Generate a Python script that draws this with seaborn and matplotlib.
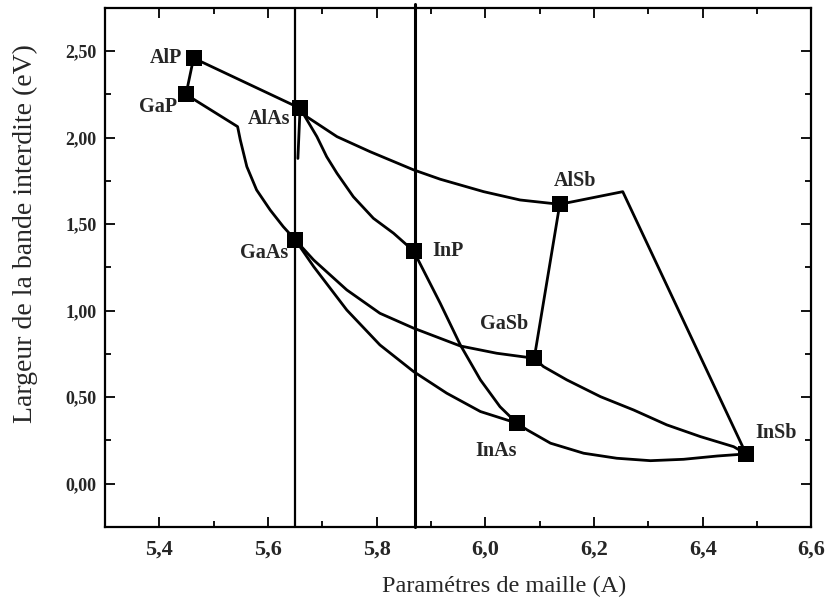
import matplotlib
matplotlib.use("Agg")

import pandas as pd
import seaborn as sns
from matplotlib import pyplot as plt

# binary compounds: lattice parameter (A) and band gap (eV)
compounds = ["AlP", "GaP", "AlAs", "GaAs", "InP", "AlSb", "GaSb", "InAs", "InSb"]
lattice = [5.463, 5.449, 5.659, 5.650, 5.868, 6.137, 6.090, 6.058, 6.480]
band_gap = [2.46, 2.25, 2.17, 1.41, 1.345, 1.615, 0.725, 0.35, 0.172]

# ternary branches
alp_alas_x = [5.463, 5.659]
alp_alas_y = [2.46, 2.17]
alp_gap_x = [5.463, 5.449]
alp_gap_y = [2.46, 2.25]
gap_gaas_x = [5.449, 5.544, 5.549, 5.561, 5.579, 5.604, 5.628, 5.650]
gap_gaas_y = [2.25, 2.064, 1.987, 1.833, 1.698, 1.582, 1.486, 1.41]
alas_gaas_x = [5.659, 5.655]
alas_gaas_y = [2.17, 1.88]
alas_alsb_x = [5.659, 5.671, 5.727, 5.788, 5.868, 5.917, 5.997, 6.064, 6.137]
alas_alsb_y = [2.17, 2.122, 2.006, 1.919, 1.814, 1.760, 1.688, 1.640, 1.615]
alas_inas_x = [5.659, 5.690, 5.708, 5.727, 5.757, 5.794, 5.831, 5.868, 5.917, 5.954, 5.991, 6.027, 6.058]
alas_inas_y = [2.17, 2.006, 1.890, 1.794, 1.659, 1.534, 1.448, 1.345, 1.043, 0.802, 0.600, 0.445, 0.35]
gaas_gasb_x = [5.650, 5.684, 5.745, 5.806, 5.868, 5.954, 6.021, 6.090]
gaas_gasb_y = [1.41, 1.293, 1.120, 0.985, 0.899, 0.796, 0.754, 0.725]
gaas_inas_x = [5.650, 5.684, 5.745, 5.806, 5.868, 5.929, 5.991, 6.058]
gaas_inas_y = [1.41, 1.255, 1.004, 0.802, 0.648, 0.523, 0.417, 0.35]
alsb_gasb_x = [6.137, 6.090]
alsb_gasb_y = [1.615, 0.725]
alsb_insb_x = [6.137, 6.253, 6.480]
alsb_insb_y = [1.615, 1.688, 0.172]
gasb_insb_x = [6.090, 6.107, 6.150, 6.212, 6.273, 6.334, 6.396, 6.457, 6.480]
gasb_insb_y = [0.725, 0.677, 0.600, 0.503, 0.426, 0.340, 0.272, 0.214, 0.172]
inas_insb_x = [6.058, 6.077, 6.120, 6.181, 6.242, 6.304, 6.365, 6.427, 6.480]
inas_insb_y = [0.35, 0.311, 0.234, 0.176, 0.147, 0.133, 0.141, 0.160, 0.172]

substrates = [5.65, 5.87]

x_ticks = [5.4, 5.6, 5.8, 6.0, 6.2, 6.4, 6.6]
x_tick_labels = ["5,4", "5,6", "5,8", "6,0", "6,2", "6,4", "6,6"]
y_ticks = [0.0, 0.5, 1.0, 1.5, 2.0, 2.5]
y_tick_labels = ["0,00", "0,50", "1,00", "1,50", "2,00", "2,50"]

# label placement (offset in points, alignment)
label_style = {
    "AlP": ((-8, 0), "right"),
    "GaP": ((-6.5, -9), "right"),
    "AlAs": ((-7, -8), "right"),
    "GaAs": ((-5, -9.5), "right"),
    "InP": ((13.5, 0), "left"),
    "AlSb": ((11, 17), "center"),
    "GaSb": ((-4, 24.5), "right"),
    "InAs": ((0, -20), "right"),
    "InSb": ((6.5, 15), "left"),
}

branches = {
    "AlP-AlAs": (alp_alas_x, alp_alas_y),
    "AlP-GaP": (alp_gap_x, alp_gap_y),
    "GaP-GaAs": (gap_gaas_x, gap_gaas_y),
    "AlAs-GaAs": (alas_gaas_x, alas_gaas_y),
    "AlAs-AlSb": (alas_alsb_x, alas_alsb_y),
    "AlAs-InAs": (alas_inas_x, alas_inas_y),
    "GaAs-GaSb": (gaas_gasb_x, gaas_gasb_y),
    "GaAs-InAs": (gaas_inas_x, gaas_inas_y),
    "AlSb-GaSb": (alsb_gasb_x, alsb_gasb_y),
    "AlSb-InSb": (alsb_insb_x, alsb_insb_y),
    "GaSb-InSb": (gasb_insb_x, gasb_insb_y),
    "InAs-InSb": (inas_insb_x, inas_insb_y),
}
curve_frame = pd.concat(
    [pd.DataFrame({"a": xs, "eg": ys, "branch": name}) for name, (xs, ys) in branches.items()],
    ignore_index=True,
)
point_frame = pd.DataFrame({"a": lattice, "eg": band_gap, "name": compounds})

sns.set_theme(style="ticks")
plt.rcParams["font.family"] = ["Liberation Serif", "DejaVu Serif"]

fig = plt.figure(figsize=(8.27, 6.12), dpi=100)
ax = fig.add_axes([0.127, 0.139, 0.854, 0.848])

sns.lineplot(
    data=curve_frame,
    x="a",
    y="eg",
    units="branch",
    estimator=None,
    sort=False,
    color="black",
    linewidth=2.0,
    legend=False,
    ax=ax,
)
for i, xv in enumerate(substrates):
    ax.axvline(xv, color="black", linewidth=1.6 + 0.6 * i, ymax=1.0 + 0.008 * i, clip_on=False, zorder=3)

sns.scatterplot(
    data=point_frame,
    x="a",
    y="eg",
    marker="s",
    s=120,
    color="black",
    edgecolor="black",
    linewidth=0,
    zorder=5,
    legend=False,
    ax=ax,
)
for name, xv, yv in zip(compounds, lattice, band_gap):
    offset, ha = label_style[name]
    ax.annotate(
        name,
        (xv, yv),
        xytext=offset,
        textcoords="offset points",
        ha=ha,
        va="center",
        fontsize=14.5,
        fontweight="bold",
    )

ax.set_xlim(5.3, 6.6)
ax.set_ylim(-0.25, 2.75)
ax.set_xticks(x_ticks, labels=x_tick_labels, fontsize=16, fontweight="bold")
ax.set_yticks(y_ticks, labels=y_tick_labels, fontsize=13, fontweight="bold")
ax.set_xticks([5.3 + 0.1 * k for k in range(14)], minor=True)
ax.set_yticks([-0.25 + 0.25 * k for k in range(13)], minor=True)
ax.tick_params(which="both", direction="in", top=True, right=True, width=1.3, color="black")
ax.tick_params(which="major", length=7)
ax.tick_params(which="minor", length=4)
ax.tick_params(axis="x", pad=9)
ax.tick_params(axis="y", pad=6)
for spine in ax.spines.values():
    spine.set_linewidth(1.6)
    spine.set_color("black")

ax.set_xlabel("Paramétres de maille (A)", fontsize=17.5, va="center")
ax.set_ylabel("Largeur de la bande interdite (eV)", fontsize=20, va="center")
ax.xaxis.set_label_coords(0.565, -0.114)
ax.yaxis.set_label_coords(-0.113, 0.566)

fig.savefig("out.png", dpi=100)
plt.close(fig)
